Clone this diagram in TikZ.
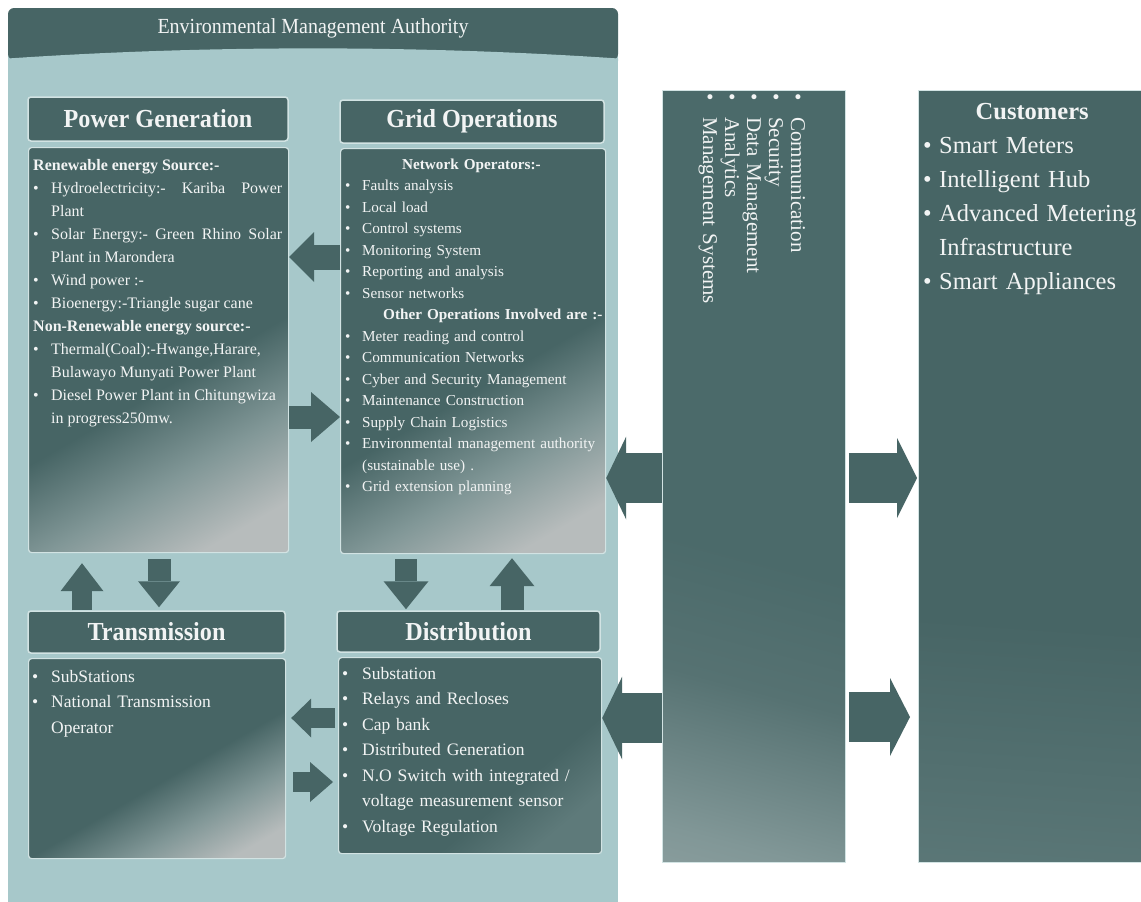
\documentclass[tikz,border=0pt]{standalone}
\usepackage{fontspec}
\setmainfont{Liberation Serif}
\newfontfamily\ttlfont[FakeStretch=0.93]{Liberation Serif}
\usetikzlibrary{arrows.meta}
\definecolor{dteal}{HTML}{476565}
\definecolor{cteal}{HTML}{4B6A6A}
\definecolor{panel}{HTML}{A7C8CA}
\definecolor{shl}{HTML}{B7BCBC}
\definecolor{shm}{HTML}{819797}
\definecolor{shq}{HTML}{5E7A7A}
\definecolor{shs}{HTML}{567272}
\definecolor{rim}{HTML}{D2E3E3}
\definecolor{txt}{HTML}{F2F4F4}
\pgfdeclareverticalshading{bodyshade}{100bp}{color(0bp)=(shl); color(22bp)=(shl); color(33bp)=(shm); color(45bp)=(dteal); color(100bp)=(dteal)}
\pgfdeclareverticalshading{dishade}{100bp}{color(0bp)=(shq); color(25bp)=(shq); color(38bp)=(dteal); color(100bp)=(dteal)}
\pgfdeclareverticalshading{colshade}{100bp}{color(0bp)=(shl); color(22bp)=(shm); color(34bp)=(shs); color(44bp)=(cteal); color(100bp)=(cteal)}
\pgfdeclareverticalshading{custshade}{100bp}{color(0bp)=(shm); color(20bp)=(shq); color(40bp)=(dteal); color(100bp)=(dteal)}
\newlength\bw
\newcommand\bul[1]{\hangindent=\bw\hangafter=1\noindent\makebox[\bw][l]{\textbullet}#1\par}
\newcommand\hd[1]{\noindent\textbf{#1}\par}
\begin{document}
\begin{tikzpicture}[x=1pt,y=-1pt,
  titlebox/.style={draw=rim, line width=1.5pt, fill=dteal, rounded corners=3pt, text=txt,
    font=\ttlfont\bfseries\fontsize{26}{30}\selectfont, inner sep=0pt},
  bodybox/.style={draw=rim, line width=1.2pt, rounded corners=3pt, shade, shading=bodyshade, shading angle=30, inner sep=0pt, anchor=north west},
  btext/.style={text=txt, inner sep=0pt, anchor=base west},
  blk/.style n args={3}{draw=dteal, line width=#1, -{Triangle[width=#2,length=#3,line width=0pt]}},
]
\useasboundingbox (0,0) rectangle (1141,902);
\fill[white] (0,0) rectangle (1141,902);
% panel and header
\fill[panel] (8,40) rectangle (618,902);
\fill[dteal, rounded corners=6pt] (8,8) rectangle (618,60);
\fill[panel] (8,58.5) .. controls (206,45) and (420,45) .. (618,58.5) -- (618,61) -- (8,61) -- cycle;
\node[font=\ttlfont\fontsize{21.5}{24}\selectfont, text=txt] (hdr) at (313,28) {Environmental Management Authority};

% title boxes
\node[titlebox, minimum width=260pt, minimum height=44pt] (pgtitle) at (158,119) {Power Generation};
\node[titlebox, minimum width=264pt, minimum height=43pt] (gotitle) at (472,121.5) {Grid Operations};
\node[titlebox, minimum width=257pt, minimum height=42pt] (trtitle) at (156.5,632) {Transmission};
\node[titlebox, minimum width=263pt, minimum height=41pt] (dititle) at (468.5,631.5) {Distribution};

% body boxes
\node[bodybox, minimum width=260pt, minimum height=405pt] (pgbody) at (28,147) {};
\node[bodybox, minimum width=265pt, minimum height=405pt] (gobody) at (340,148) {};
\node[bodybox, minimum width=257pt, minimum height=200pt] (trbody) at (28,658) {};
\node[bodybox, shading=dishade, shading angle=40, minimum width=263pt, minimum height=196pt] (dibody) at (338,657) {};

% side columns
\node[draw=rim, line width=0.8pt, shade, shading=colshade, shading angle=-15, minimum width=183pt, minimum height=772pt, anchor=north west, inner sep=0pt] (midcol) at (662,90) {};
\node[draw=rim, line width=0.8pt, shade, shading=custshade, shading angle=-4, minimum width=235pt, minimum height=772pt, anchor=north west, inner sep=0pt] (cust) at (918,90) {};

% texts
\node[btext, text width=249pt, align=justify, font=\fontsize{16}{23}\selectfont] (pgtext) at (33,170) {%
\setlength\bw{18pt}\hyphenpenalty=10000 \exhyphenpenalty=10000 \tolerance=9999 \emergencystretch=20pt%
\hd{Renewable energy Source:-}%
\bul{Hydroelectricity:- Kariba Power Plant}%
\bul{Solar Energy:- Green Rhino Solar Plant in Marondera}%
\bul{Wind power :-}%
\bul{Bioenergy:-Triangle sugar cane}%
\hd{Non-Renewable energy source:-}%
\bul{Thermal(Coal):-Hwange,Harare, Bulawayo Munyati Power Plant}%
\bul{Diesel Power Plant in Chitungwiza\newline in progress250mw.}};

\node[btext, text width=258pt, font=\fontsize{15.2}{21.5}\selectfont] (gotext) at (345,169) {%
\raggedright\setlength\bw{17pt}%
\noindent\hspace*{57pt}\textbf{Network Operators:-}\par
\bul{Faults analysis}%
\bul{Local load}%
\bul{Control systems}%
\bul{Monitoring System}%
\bul{Reporting and analysis}%
\bul{Sensor networks}%
\noindent\hspace*{38pt}\mbox{\textbf{Other Operations Involved are :-}}\par
\bul{Meter reading and control}%
\bul{Communication Networks}%
\bul{Cyber and Security Management}%
\bul{Maintenance Construction}%
\bul{Supply Chain Logistics}%
\bul{Environmental management authority\newline (sustainable use) .}%
\bul{Grid extension planning}};

\node[btext, text width=245pt, font=\fontsize{17.5}{25.5}\selectfont] (trtext) at (32,682) {%
\raggedright\setlength\bw{19pt}%
\bul{SubStations}%
\bul{National Transmission\newline Operator}};

\node[btext, text width=255pt, font=\fontsize{17.5}{25.5}\selectfont] (ditext) at (342,679) {%
\raggedright\setlength\bw{20pt}%
\bul{Substation}%
\bul{Relays and Recloses}%
\bul{Cap bank}%
\bul{Distributed Generation}%
\bul{N.O Switch with integrated /\newline voltage measurement sensor}%
\bul{Voltage Regulation}};

\node[btext, rotate=-90, text width=230pt, font=\fontsize{21}{22}\selectfont] (midtext) at (791,93) {%
\raggedright\setlength\bw{24pt}%
\bul{Communication}%
\bul{Security}%
\bul{Data Management}%
\bul{Analytics}%
\bul{Management Systems}};

\node[btext, text width=218pt, font=\fontsize{24.5}{34}\selectfont] (custtext) at (923,119) {%
\raggedright\setlength\bw{16pt}%
\noindent\makebox[\linewidth]{\textbf{Customers}}\par
\bul{Smart Meters}%
\bul{Intelligent Hub}%
\bul{Advanced Metering\newline Infrastructure}%
\bul{Smart Appliances}};

% arrows between power generation and grid operations
\draw[blk={25pt}{50pt}{25pt}] (gobody.west |- 0,257) -- (pgbody.east |- 0,257);
\draw[blk={23pt}{50pt}{29pt}] (pgbody.east |- 0,417) -- (gobody.west |- 0,417);
% vertical arrows
\draw[blk={20pt}{43pt}{28pt}, shorten >=10pt] (trtitle.north -| 82,0) -- (pgbody.south -| 82,0);
\draw[blk={23pt}{42pt}{26pt}, shorten <=6pt, shorten >=3pt] (pgbody.south -| 159,0) -- (trtitle.north -| 159,0);
\draw[blk={22pt}{45pt}{28pt}, shorten <=5pt, shorten >=1pt] (gobody.south -| 406,0) -- (dititle.north -| 406,0);
\draw[blk={23pt}{45pt}{28pt}, shorten >=4pt] (dititle.north -| 512,0) -- (gobody.south -| 512,0);
% transmission / distribution
\draw[blk={20pt}{39pt}{20pt}, shorten <=3pt, shorten >=5pt] (dibody.west |- 0,718) -- (trbody.east |- 0,718);
\draw[blk={20pt}{40pt}{23pt}, shorten <=7pt, shorten >=5pt] (trbody.east |- 0,782) -- (dibody.west |- 0,782);
% middle column arrows
\draw[blk={50pt}{83pt}{20pt}] (midcol.west |- 0,478) -- (gobody.east |- 0,478);
\draw[blk={50pt}{83pt}{20pt}] (midcol.west |- 0,718) -- (dibody.east |- 0,718);
\draw[blk={50pt}{80pt}{20pt}, shorten <=3pt, shorten >=1pt] (midcol.east |- 0,478) -- (cust.west |- 0,478);
\draw[blk={50pt}{78pt}{20pt}, shorten <=3pt, shorten >=8pt] (midcol.east |- 0,717) -- (cust.west |- 0,717);
\end{tikzpicture}
\end{document}
